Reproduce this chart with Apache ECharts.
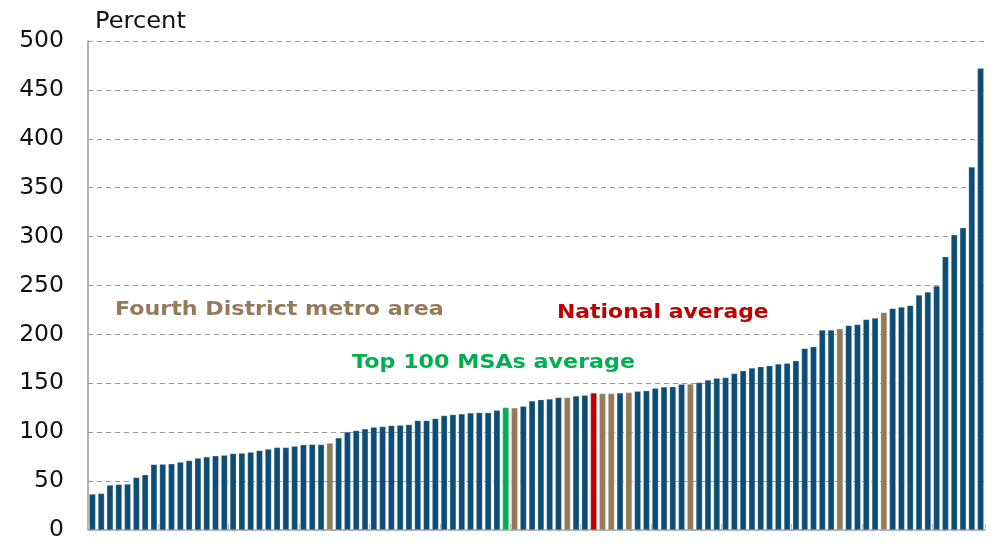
<!DOCTYPE html>
<html>
<head>
<meta charset="utf-8">
<script src="https://cdn.jsdelivr.net/npm/echarts@6/dist/echarts.min.js"></script>
<style>
html,body{margin:0;padding:0;background:#fff;}
#chart{width:1000px;height:555px;}
</style>
</head>
<body>
<div id="chart"></div>
<script>
// Metro areas sorted by value (percent)
const values = [
  36.7, 37.4, 45.9, 46.6, 47.0, 53.7, 56.5, 67.0, 67.3, 67.7,
  69.4, 71.0, 73.5, 74.8, 75.9, 76.5, 78.2, 78.6, 79.6, 81.3,
  82.7, 84.4, 84.4, 85.7, 87.2, 87.5, 87.4, 88.8, 94.2, 100.3,
  101.7, 103.4, 105.1, 105.8, 106.8, 107.1, 107.8, 111.9, 111.9, 113.9,
  117.0, 118.0, 118.7, 119.7, 120.0, 120.0, 122.4, 125.2, 124.8, 126.5,
  132.0, 133.3, 134.0, 135.4, 135.4, 137.1, 137.8, 140.1, 139.5, 139.5,
  140.1, 140.5, 141.8, 142.5, 144.9, 146.3, 146.6, 149.0, 149.3, 150.7,
  153.4, 155.1, 155.9, 159.9, 162.9, 165.6, 167.0, 168.0, 169.7, 170.4,
  173.1, 185.7, 187.4, 204.4, 204.4, 205.8, 209.2, 210.2, 215.3, 216.7,
  222.5, 226.6, 227.9, 229.6, 240.2, 243.3, 249.4, 279.4, 301.8, 309.1,
  371.2, 472.2
];
// Group of each bar: M = metro area, F = Fourth District metro, T = Top 100 MSAs average, N = National average
const groups = [
  'M','M','M','M','M','M','M','M','M','M',
  'M','M','M','M','M','M','M','M','M','M',
  'M','M','M','M','M','M','M','F','M','M',
  'M','M','M','M','M','M','M','M','M','M',
  'M','M','M','M','M','M','M','T','F','M',
  'M','M','M','M','F','M','M','N','F','F',
  'M','F','M','M','M','M','M','M','F','M',
  'M','M','M','M','M','M','M','M','M','M',
  'M','M','M','M','M','F','M','M','M','M',
  'F','M','M','M','M','M','M','M','M','M',
  'M','M'
];
const categories = values.map((v, i) => 'MSA ' + (i + 1));
const yTicks = [0, 50, 100, 150, 200, 250, 300, 350, 400, 450, 500];
const legendLabels = ['Fourth District metro area', 'National average', 'Top 100 MSAs average'];

const colors = { M: '#0C4C75', F: '#957A5A', T: '#00B050', N: '#C00000' };

const chart = echarts.init(document.getElementById('chart'));
const font = 'DejaVu Sans, Verdana, sans-serif';

chart.setOption({
  animation: false,
  grid: { left: 88, right: 15, top: 41, bottom: 25, containLabel: false },
  xAxis: {
    type: 'category',
    data: categories,
    axisLine: { show: true, lineStyle: { color: '#aaaaaa', width: 1.5 } },
    axisTick: { show: true, inside: true, length: 6, lineStyle: { color: '#bbbbbb' } },
    axisLabel: { show: false },
    splitLine: { show: false }
  },
  yAxis: {
    type: 'value',
    min: yTicks[0],
    max: yTicks[yTicks.length - 1],
    interval: 50,
    axisLine: { show: true, lineStyle: { color: '#999999', width: 1.5 } },
    axisTick: { show: false },
    axisLabel: { color: '#111', fontSize: 23.5, fontFamily: font, margin: 24 },
    splitLine: { show: true, lineStyle: { color: '#999999', type: [5, 4], width: 1 } }
  },
  series: [{
    type: 'bar',
    barCategoryGap: '28%',
    data: values.map((v, i) => ({
      value: v,
      itemStyle: { color: colors[groups[i]], borderColor: 'rgba(200,215,225,0.6)', borderWidth: 0.5 }
    }))
  }],
  graphic: [
    { type: 'text', x: 95, y: 11, scaleX: 1.05, style: { text: 'Percent', fontSize: 23, fontFamily: font, fill: '#111' } },
    { type: 'text', x: 115, y: 301, scaleX: 1.167, style: { text: legendLabels[0], fontSize: 19, fontWeight: 'bold', fontFamily: font, fill: '#957A5A' } },
    { type: 'text', x: 557, y: 304, scaleX: 1.153, style: { text: legendLabels[1], fontSize: 19, fontWeight: 'bold', fontFamily: font, fill: '#C00000' } },
    { type: 'text', x: 352, y: 354, scaleX: 1.17, style: { text: legendLabels[2], fontSize: 19, fontWeight: 'bold', fontFamily: font, fill: '#00B050' } }
  ]
});
</script>
</body>
</html>
